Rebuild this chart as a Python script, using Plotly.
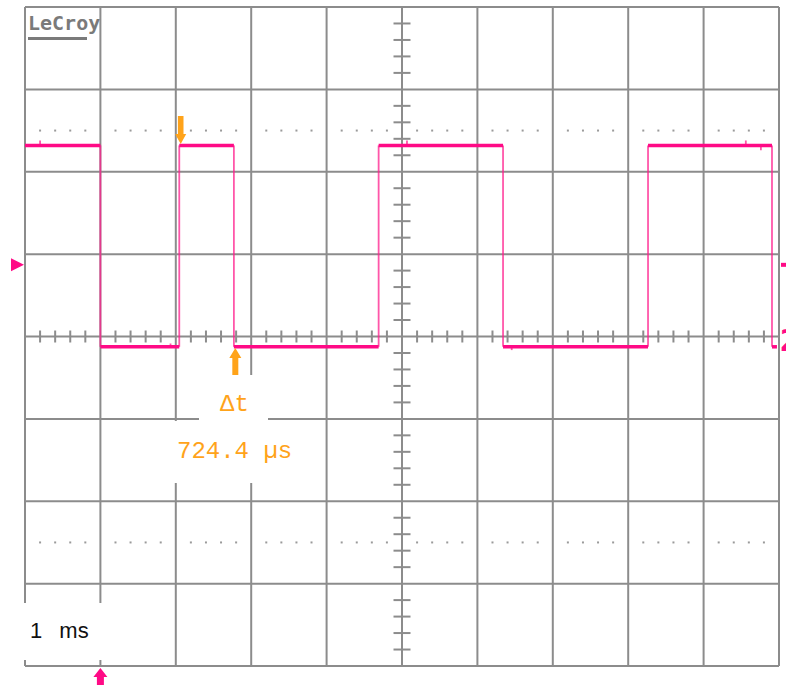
import plotly.graph_objects as go

# ---- acquisition: time in ms from screen centre, amplitude in divisions ----
trace_start = -5.0
trace_end = 4.973
edge_times = [-4.00, -2.954, -2.2296, -0.31, 1.34, 3.263, 4.907]   # alternating fall / rise
level_high = 2.32
level_low = -0.125
glitch_times = [-4.80, -3.07, 0.066, 1.455, 4.56, 4.76]
glitch_amps = [0.06, 0.04, 0.06, -0.04, 0.06, -0.06]

cursor_t1 = -2.935
delta_t_us = 724.4
trigger_time = -4.0
channel_offset = 0.87
timebase_label = "1 ms"

# ---- screen geometry (pixels) ----
W, H = 786, 685
GX0, GX1, GY0, GY1 = 25, 779, 7, 666
DX = (GX1 - GX0) / 10.0
DY = (GY1 - GY0) / 8.0


def xd(px):
    return -5 + (px - GX0) / DX


def yd(py):
    return 4 - (py - GY0) / DY


GRID = "#8c8c8c"
PINK = "#ff0a86"
PINK_EDGE = "rgba(255,30,140,0.75)"
ORANGE = "#ffa31a"

shapes = []


def seg(x0, y0, x1, y1, color=GRID, width=2):
    shapes.append(dict(type="line", xref="x", yref="y", x0=x0, y0=y0, x1=x1, y1=y1,
                       line=dict(color=color, width=width), layer="below"))


# graticule
for i in range(11):
    seg(-5 + i, -4, -5 + i, 4)
for j in range(9):
    seg(-5, -4 + j, 5, -4 + j)
th = 6 / DY
tv = 8.5 / DX
for k in range(51):
    if k % 5:
        x = -5 + k * 0.2
        seg(x, -th, x, th)
for k in range(41):
    if k % 5:
        y = -4 + k * 0.2
        seg(-tv, y, tv, y)

# label backgrounds that interrupt the graticule
def blank(px0, py0, px1, py1):
    shapes.append(dict(type="rect", xref="x", yref="y", x0=xd(px0), x1=xd(px1),
                       y0=yd(py1), y1=yd(py0), fillcolor="white",
                       line=dict(width=0), layer="below"))


blank(199, 375, 268, 421)
blank(173, 421, 302, 483)
blank(0, 603, 112, 660)

# LeCroy underline
shapes.append(dict(type="rect", xref="x", yref="y", x0=xd(28), x1=xd(87),
                   y0=yd(40), y1=yd(37), fillcolor="#7a7a7a", line=dict(width=0)))

# cursor arrows (pixel-sized, anchored at cursor time)
cursor_t2 = cursor_t1 + delta_t_us / 1000.0
down_arrow = "M0,0 L-5.5,10 L-2.8,10 L-2.8,28 L2.8,28 L2.8,10 L5.5,10 Z"
up_arrow = "M0,0 L-6,-10 L-3,-10 L-3,-27 L3,-27 L3,-10 L6,-10 Z"
for t, path, py in [(cursor_t1, down_arrow, 144), (cursor_t2, up_arrow, 348)]:
    shapes.append(dict(type="path", xref="x", yref="y", xsizemode="pixel", ysizemode="pixel",
                       xanchor=t, yanchor=yd(py), path=path,
                       fillcolor=ORANGE, line=dict(width=0)))

# trigger position marker under the screen
shapes.append(dict(type="path", xref="x", yref="y", xsizemode="pixel", ysizemode="pixel",
                   xanchor=trigger_time, yanchor=yd(668),
                   path="M0,0 L-7,-9 L-3.5,-9 L-3.5,-20 L3.5,-20 L3.5,-9 L7,-9 Z",
                   fillcolor=PINK, line=dict(width=0)))
# channel offset markers at both screen edges
shapes.append(dict(type="path", xref="x", yref="y", xsizemode="pixel", ysizemode="pixel",
                   xanchor=-5, yanchor=channel_offset,
                   path="M-1,0 L-14,6.5 L-14,-6.5 Z", fillcolor=PINK, line=dict(width=0)))
shapes.append(dict(type="path", xref="x", yref="y", xsizemode="pixel", ysizemode="pixel",
                   xanchor=5, yanchor=channel_offset,
                   path="M2,2 L9,2 L9,-2 L2,-2 Z", fillcolor=PINK, line=dict(width=0)))

# ---- waveform ----
bounds = [trace_start] + edge_times + [trace_end]
levels = [level_high if i % 2 == 0 else level_low for i in range(len(bounds) - 1)]

hx, hy = [], []
for i, lvl in enumerate(levels):
    hx += [bounds[i], bounds[i + 1], None]
    hy += [lvl, lvl, None]

vx, vy = [], []
for i, t in enumerate(edge_times):
    vx += [t, t, None]
    vy += [levels[i], levels[i + 1], None]


def level_at(t):
    for i in range(len(levels)):
        if bounds[i] <= t < bounds[i + 1]:
            return levels[i]
    return levels[-1]


for t, a in zip(glitch_times, glitch_amps):
    base = level_at(t)
    vx += [t, t, None]
    vy += [base, base + a, None]

# dotted reference rows
dot_x, dot_y = [], []
for row in (2.5, -2.5):
    for k in range(51):
        if k % 5:
            dot_x.append(-5 + k * 0.2)
            dot_y.append(row)

fig = go.Figure()
fig.add_trace(go.Scatter(x=dot_x, y=dot_y, mode="markers",
                         marker=dict(symbol="square", size=2, color="#9a9a9a", line=dict(width=0)),
                         hoverinfo="skip"))
fig.add_trace(go.Scatter(x=vx, y=vy, mode="lines", line=dict(color=PINK_EDGE, width=1.8),
                         hoverinfo="skip"))
fig.add_trace(go.Scatter(x=hx, y=hy, mode="lines", line=dict(color=PINK, width=3.5),
                         hoverinfo="skip"))

annotations = [
    dict(x=xd(26), y=yd(23), text="<b>LeCroy</b>", showarrow=False, xanchor="left", yanchor="middle",
         font=dict(family="DejaVu Sans Mono", size=20, color="#7a7a7a")),
    dict(x=xd(234.5), y=yd(404), text="Δt", showarrow=False, xanchor="center", yanchor="middle",
         font=dict(family="Liberation Mono", size=24, color=ORANGE)),
    dict(x=xd(234), y=yd(451), text=f"{delta_t_us:.1f} µs", showarrow=False,
         xanchor="center", yanchor="middle",
         font=dict(family="Liberation Mono", size=24, color=ORANGE)),
    dict(x=xd(28), y=yd(630), text=timebase_label.replace(" ", "\u2002 "), showarrow=False,
         xanchor="left", yanchor="middle",
         font=dict(family="Liberation Sans", size=22, color="#111111")),
    dict(x=xd(778), y=yd(340), text="<b>2</b>", showarrow=False, xanchor="left", yanchor="middle",
         font=dict(family="DejaVu Sans Mono", size=30, color=PINK)),
]

fig.update_layout(
    width=W, height=H, margin=dict(l=0, r=0, t=0, b=0),
    paper_bgcolor="white", plot_bgcolor="white", showlegend=False,
    xaxis=dict(range=[xd(0), xd(W)], visible=False, fixedrange=True),
    yaxis=dict(range=[yd(H), yd(0)], visible=False, fixedrange=True),
    shapes=shapes, annotations=annotations,
)

fig.write_html("out.html")
